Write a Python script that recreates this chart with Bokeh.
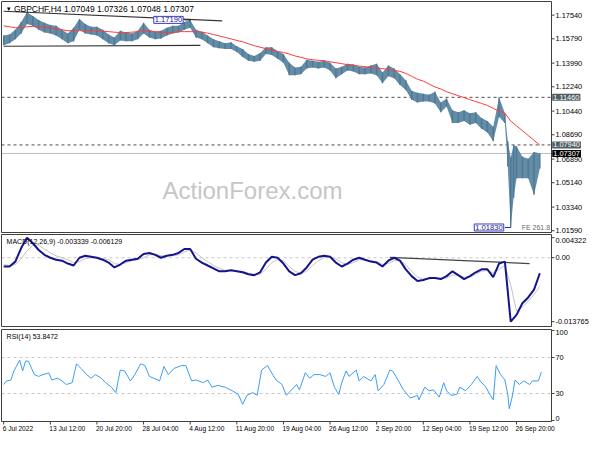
from bokeh.plotting import figure
from bokeh.models import Range1d, Label
from bokeh.core.properties import value
from bokeh.embed import file_html
from bokeh.resources import INLINE

# ---------------- data ----------------
# H4 bars (bar index, sampled)
bar = list(range(0, 348, 4)) + [346, 348, 350, 352, 356, 360, 364, 368]
high = [1.1603, 1.1610, 1.1646, 1.1704, 1.1776, 1.1747, 1.1718, 1.1697, 1.1682, 1.1675,
        1.1646, 1.1618, 1.1661, 1.1725, 1.1689, 1.1668, 1.1668, 1.1646, 1.1610, 1.1589,
        1.1639, 1.1625, 1.1618, 1.1639, 1.1697, 1.1646, 1.1632, 1.1639, 1.1661, 1.1675,
        1.1675, 1.1704, 1.1719, 1.1646, 1.1632, 1.1603, 1.1575, 1.1560, 1.1546, 1.1553,
        1.1524, 1.1503, 1.1467, 1.1452, 1.1474, 1.1517, 1.1517, 1.1488, 1.1467, 1.1402,
        1.1366, 1.1373, 1.1424, 1.1417, 1.1409, 1.1417, 1.1402, 1.1359, 1.1373, 1.1395,
        1.1388, 1.1373, 1.1366, 1.1381, 1.1395, 1.1330, 1.1381, 1.1359, 1.1316, 1.1273,
        1.1194, 1.1180, 1.1173, 1.1165, 1.1187, 1.1108, 1.1137, 1.1050, 1.1036, 1.1050,
        1.1029, 1.1036, 1.0993, 1.0971, 1.0928, 1.1146, 1.1029,
        1.0821, 1.0700, 1.0792, 1.0785, 1.0706, 1.0691, 1.0742, 1.07326]
low = [1.1531, 1.1546, 1.1575, 1.1618, 1.1689, 1.1675, 1.1646, 1.1625, 1.1618, 1.1603,
       1.1575, 1.1546, 1.1560, 1.1646, 1.1618, 1.1610, 1.1603, 1.1575, 1.1546, 1.1531,
       1.1567, 1.1560, 1.1560, 1.1575, 1.1618, 1.1589, 1.1575, 1.1582, 1.1603, 1.1618,
       1.1625, 1.1646, 1.1661, 1.1589, 1.1575, 1.1546, 1.1517, 1.1510, 1.1503, 1.1503,
       1.1481, 1.1445, 1.1417, 1.1409, 1.1417, 1.1467, 1.1460, 1.1431, 1.1402, 1.1309,
       1.1309, 1.1316, 1.1359, 1.1366, 1.1359, 1.1366, 1.1345, 1.1287, 1.1316, 1.1345,
       1.1338, 1.1316, 1.1316, 1.1323, 1.1309, 1.1251, 1.1302, 1.1287, 1.1237, 1.1201,
       1.1129, 1.1108, 1.1115, 1.1115, 1.1101, 1.1036, 1.1079, 1.0957, 1.0957, 1.0971,
       1.0943, 1.0957, 1.0914, 1.0885, 1.0821, 1.1000, 1.0957,
       1.0634, 1.0183, 1.0404, 1.0548, 1.0548, 1.0548, 1.0426, 1.0620]

ind_bar = list(range(0, 372, 4))
ma = [1.1675, 1.1668, 1.1661, 1.1661, 1.1668, 1.1671, 1.1668, 1.1664, 1.1661, 1.1654,
      1.1646, 1.1639, 1.1639, 1.1639, 1.1639, 1.1639, 1.1639, 1.1636, 1.1632, 1.1628,
      1.1625, 1.1625, 1.1628, 1.1632, 1.1636, 1.1636, 1.1632, 1.1628, 1.1625, 1.1625,
      1.1632, 1.1632, 1.1632, 1.1632, 1.1628, 1.1621, 1.1610, 1.1600, 1.1589, 1.1578,
      1.1567, 1.1557, 1.1542, 1.1528, 1.1517, 1.1506, 1.1496, 1.1485, 1.1478, 1.1467,
      1.1452, 1.1442, 1.1431, 1.1424, 1.1420, 1.1417, 1.1409, 1.1402, 1.1395, 1.1388,
      1.1384, 1.1377, 1.1373, 1.1366, 1.1363, 1.1359, 1.1352, 1.1345, 1.1338, 1.1323,
      1.1302, 1.1280, 1.1266, 1.1244, 1.1223, 1.1208, 1.1187, 1.1173, 1.1158, 1.1144,
      1.1129, 1.1115, 1.1101, 1.1086, 1.1065, 1.1043, 1.1029, 1.0971, 1.0935, 1.0900,
      1.0864, 1.0828, 1.0792]
macd = [-0.00188, -0.00188, -0.00083, 0.00209, 0.004322, 0.00313, 0.00167, 0.00063, 0.0, -0.00042,
        -0.00063, -0.00125, -0.00167, 0.0, 0.00042, 0.00021, 0.0, -0.00042, -0.00104, -0.00209,
        -0.00146, -0.00063, -0.00042, -0.00021, 0.00083, 0.00104, 0.00063, 0.0, 0.00042, 0.00063,
        0.00104, 0.00188, 0.00188, -0.00021, -0.00104, -0.00167, -0.00229, -0.00292, -0.00292, -0.00271,
        -0.00292, -0.00313, -0.00355, -0.00375, -0.00313, -0.00104, 0.00021, 0.0, -0.00125, -0.00292,
        -0.00375, -0.00334, -0.00209, -0.00042, 0.00021, 0.00042, 0.00021, -0.00104, -0.00188, -0.00125,
        -0.00042, 0.0, -0.00042, -0.00083, -0.00104, -0.00188, -0.00063, 0.0, -0.00063, -0.00250,
        -0.00396, -0.00501, -0.00480, -0.00438, -0.00438, -0.00459, -0.00396, -0.00292, -0.00375, -0.00459,
        -0.00396, -0.00313, -0.00250, -0.00250, -0.00417, -0.00125, -0.00083, -0.013765, -0.01231, -0.00980,
        -0.00855, -0.00688, -0.003339]
signal = [-0.00146, -0.00167, -0.00146, -0.00021, 0.00146, 0.00271, 0.00271, 0.00188, 0.00104, 0.00042,
          0.0, -0.00042, -0.00104, -0.00083, -0.00021, 0.0, 0.0, -0.00021, -0.00042, -0.00125,
          -0.00146, -0.00104, -0.00063, -0.00042, 0.0, 0.00063, 0.00083, 0.00042, 0.00042, 0.00042,
          0.00063, 0.00125, 0.00167, 0.00104, 0.0, -0.00083, -0.00167, -0.00229, -0.00271, -0.00271,
          -0.00292, -0.00292, -0.00334, -0.00355, -0.00355, -0.00250, -0.00104, -0.00042, -0.00063, -0.00188,
          -0.00292, -0.00334, -0.00292, -0.00167, -0.00063, 0.0, 0.00021, -0.00021, -0.00104, -0.00146,
          -0.00104, -0.00042, -0.00042, -0.00063, -0.00083, -0.00146, -0.00125, -0.00063, -0.00063, -0.00146,
          -0.00292, -0.00417, -0.00459, -0.00459, -0.00438, -0.00438, -0.00438, -0.00375, -0.00375, -0.00417,
          -0.00417, -0.00355, -0.00292, -0.00271, -0.00334, -0.00250, -0.00167, -0.00584, -0.01147, -0.01064,
          -0.00939, -0.00793, -0.006129]

rsi_bar = [0, 2, 5, 7, 11, 13, 15, 17, 21, 24, 27, 31, 33, 37, 40, 43, 47, 50, 53, 57,
           60, 63, 67, 70, 74, 77, 80, 83, 87, 90, 94, 97, 100, 103, 107, 110, 113, 117, 122, 125,
           129, 132, 137, 140, 143, 147, 152, 157, 161, 164, 167, 171, 174, 177, 181, 185, 187, 191, 194, 197,
           201, 203, 207, 210, 213, 217, 221, 224, 227, 230, 232, 235, 237, 242, 244, 247, 252, 255, 257, 261,
           265, 267, 271, 274, 279, 281, 284, 285, 289, 292, 295, 299, 302, 304, 307, 311, 313, 317, 321, 325,
           327, 331, 334, 336, 338, 341, 344, 346, 347, 349, 351, 354, 357, 361, 363, 367, 369]
rsi = [40, 44, 45, 55, 67, 55, 66, 66, 51, 49, 51, 53, 45, 47, 44, 40, 42, 63, 58, 51,
       47, 51, 47, 42, 37, 31, 56, 55, 44, 51, 63, 61, 49, 47, 44, 60, 51, 58, 61, 61,
       44, 45, 42, 45, 37, 39, 37, 33, 29, 18, 28, 31, 28, 56, 61, 50, 45, 40, 28, 33,
       40, 34, 53, 47, 51, 51, 49, 53, 37, 29, 42, 55, 49, 56, 44, 49, 44, 51, 33, 40,
       56, 55, 44, 35, 25, 26, 28, 23, 37, 33, 34, 26, 42, 33, 28, 29, 37, 33, 40, 49,
       44, 37, 28, 23, 61, 51, 45, 29, 13, 26, 45, 40, 44, 40, 44, 44, 53.8472]

price_ticks = [1.0159, 1.0334, 1.0514, 1.0689, 1.0869, 1.1044, 1.1224, 1.1399, 1.1579, 1.1754]
macd_ticks = [0.004322, 0.0, -0.013765]
macd_tick_labels = ["0.004322", "0.00", "-0.013765"]
rsi_ticks = [0, 30, 70, 100]
rsi_levels = [30, 70]
x_tick_bars = [0, 32, 64, 96, 128, 160, 192, 224, 256, 288, 320, 352]
x_tick_labels = ["6 Jul 2022", "13 Jul 12:00", "20 Jul 20:00", "28 Jul 04:00", "4 Aug 12:00",
                 "11 Aug 20:00", "19 Aug 04:00", "26 Aug 12:00", "2 Sep 20:00", "12 Sep 04:00",
                 "19 Sep 12:00", "26 Sep 20:00"]

level_high = 1.1146
level_fe = 1.0794
last_close = 1.07307
mark_high = 1.1719
mark_low = 1.0183
upper_tl_x, upper_tl_y = [0, 150], [1.1783, 1.1711]
lower_tl_x, lower_tl_y = [0, 135], [1.1524, 1.1531]
macd_tl_x, macd_tl_y = [265, 361], [0.0001, -0.00125]

# ---------------- layout ----------------
FONT = "Liberation Sans"
FS_TITLE = "8.5px"
FS_AX = "7.4px"
FS_SUB = "7px"
FS_X = "6.6px"
W, H = 590, 434
B0, B1 = -1.5, 376            # bar range of the plot area
PL, PR = 1, 551               # plot area left / right px
PXB = (PR - PL) / (B1 - B0)
x_start = B0 - PL / PXB
x_end = B1 + (W - PR) / PXB


def bx(px):
    return x_start + px / PXB


def band(vtop, vbot, ptop, pbot):
    upp = (vtop - vbot) / (pbot - ptop)
    start, end = vbot - (H - pbot) * upp, vtop + ptop * upp
    return Range1d(start, end), (lambda px: end - px * upp)


P_TOP, P_BOT = 1.1855, 1.0146
M_TOP, M_BOT = 0.00501, -0.01481
R_TOP, R_BOT = 101.1, -1.1
price_r, py = band(P_TOP, P_BOT, 1, 232)
macd_r, my = band(M_TOP, M_BOT, 234, 326)
rsi_r, ry = band(R_TOP, R_BOT, 329, 421)

p = figure(width=W, height=H, x_range=Range1d(x_start, x_end), y_range=price_r,
           x_axis_location=None, y_axis_location=None, min_border=0,
           output_backend="svg", toolbar_location=None, outline_line_color=None,
           background_fill_color="white", border_fill_color="white")
p.extra_y_ranges = {"macd": macd_r, "rsi": rsi_r}
p.grid.visible = False

BORDER = "#404040"
TICK_X1 = B1 + 3 / PXB
LAB_X = B1 + 4 / PXB


def text(xs, ys, labels, rng="default", color="#000000", size=FS_AX, align="left", baseline="middle", xo=0):
    p.text(x=xs, y=ys, text=labels, y_range_name=rng, text_color=color,
           text_font=value(FONT), text_font_size=value(size),
           text_align=align, text_baseline=baseline, x_offset=xo)


def label(x, y, t, rng="default", color="#000000", size=FS_AX, align="left", **kw):
    p.add_layout(Label(x=x, y=y, text=t, y_range_name=rng, text_color=color, text_font_size=size,
                       text_font=FONT, text_align=align, text_baseline="middle", **kw))


def panel(top, bot, rng, ticks, labels, baselines=None):
    p.quad(left=B0, right=B1, top=top, bottom=bot, y_range_name=rng,
           fill_color=None, line_color=BORDER, line_width=1)
    p.segment(x0=[B1] * len(ticks), x1=[TICK_X1] * len(ticks), y0=ticks, y1=ticks,
              y_range_name=rng, line_color=BORDER)
    if baselines is None:
        text([LAB_X] * len(ticks), ticks, labels, rng)
    else:
        for t, l, b in zip(ticks, labels, baselines):
            text([LAB_X], [t], [l], rng, baseline=b)


# ---- main price panel ----
label(bx(252), py(190), "ActionForex.com", color="#c6c6c6", size="24px", align="center")

p.segment(x0=[B0, B0], x1=[B1, B1], y0=[level_high, level_fe], y1=[level_high, level_fe],
          line_color="#505050", line_dash="3 3", line_width=1)
p.segment(x0=[B0], x1=[B1], y0=[last_close], y1=[last_close], line_color="#bdbdbd", line_width=1)

p.varea(x=bar, y1=low, y2=high, fill_color="#658ca6", fill_alpha=1.0)
p.segment(x0=bar, x1=bar, y0=low, y1=high, line_color="#4c7994", line_width=1.4)
p.line(ind_bar, ma, color="#ff3c3c", line_width=1)
p.line(upper_tl_x, upper_tl_y, color="#333333", line_width=1.2)
p.line(lower_tl_x, lower_tl_y, color="#333333", line_width=1.2)
p.line([124, 128], [mark_high, mark_high], color="#222222", line_width=1)
p.line([344, 348], [mark_low, mark_low], color="#2a2aaa", line_width=1)

panel(P_TOP, P_BOT, "default", price_ticks, [f"{t:.5f}" for t in price_ticks])

label(103, mark_high, "1.17190", color="#1a1a80", border_line_color="#3a3ad0",
      background_fill_color="white", padding=1, size="7.6px")
label(323, mark_low, "1.01830", color="#1a1a80", border_line_color="#3a3ad0",
      background_fill_color="white", padding=1, size="7.6px")
label(B1 - 1, mark_low, "FE 261.8", color="#6a6a6a", align="right", size=FS_SUB)

label(1.5, py(8), "\u25bc", size="6px")
label(7, py(8), "GBPCHF,H4  1.07049 1.07326 1.07048 1.07307", size=FS_TITLE)

label(B1 + 0.5, level_high, "1.11460", color="white", background_fill_color="#4f5e64", padding=1)
label(B1 + 0.5, level_fe, "1.07940", color="white", background_fill_color="#4f5e64", padding=1)
label(B1 + 0.5, last_close, "1.07307", color="white", background_fill_color="#000000", padding=1)

# ---- MACD panel ----
p.segment(x0=[B0], x1=[B1], y0=[0], y1=[0], y_range_name="macd",
          line_color="#c8c8c8", line_dash="3 3", line_width=1)
p.line(ind_bar, signal, y_range_name="macd", color="#c4c4c4", line_width=1)
p.line(macd_tl_x, macd_tl_y, y_range_name="macd", color="#444444", line_width=1.2)
p.line(ind_bar, macd, y_range_name="macd", color="#14148c", line_width=2)
panel(M_TOP, M_BOT, "macd", macd_ticks, macd_tick_labels, ["top", "middle", "middle"])
label(2, my(241), "MACD(12,26,9) -0.003339 -0.006129", rng="macd", size=FS_SUB)

# ---- RSI panel ----
p.segment(x0=[B0] * 2, x1=[B1] * 2, y0=rsi_levels, y1=rsi_levels, y_range_name="rsi",
          line_color="#c8c8c8", line_dash="3 3", line_width=1)
p.line(rsi_bar, rsi, y_range_name="rsi", color="#3d9df5", line_width=1)
panel(R_TOP, R_BOT, "rsi", rsi_ticks, [str(t) for t in rsi_ticks], ["bottom", "middle", "middle", "top"])
label(2, ry(336), "RSI(14) 53.8472", rng="rsi", size=FS_SUB)

# x axis ticks and labels
p.segment(x0=x_tick_bars, x1=x_tick_bars, y0=[R_BOT] * len(x_tick_bars),
          y1=[ry(424)] * len(x_tick_bars), y_range_name="rsi", line_color=BORDER)
text(x_tick_bars, [ry(424.5)] * len(x_tick_bars), x_tick_labels, "rsi", size=FS_X,
     baseline="top", xo=-1)

open("out.html", "w").write(file_html(p, INLINE))
